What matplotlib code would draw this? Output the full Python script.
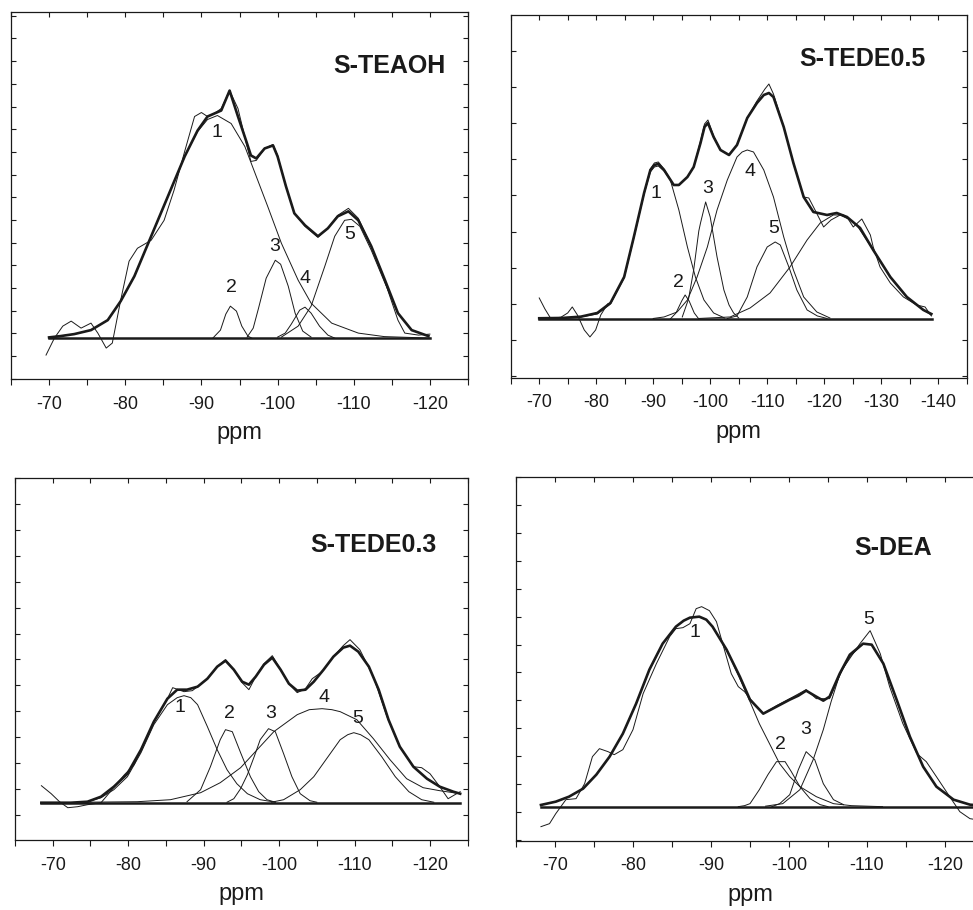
import numpy as np
import matplotlib
matplotlib.use("Agg")
import matplotlib.pyplot as plt

plt.rcParams['font.family'] = ['Liberation Sans', 'DejaVu Sans']
plt.rcParams['axes.unicode_minus'] = False

# ---------------- S-TEAOH ----------------
teaoh_exp_x = [-69.6, -70.7, -71.8, -72.9, -74.2, -75.5, -76.4, -77.5, -78.3, -79.4, -80.5, -81.6, -83.4, -85.1,
               -86.4, -87.8, -89.1, -90.0, -90.8, -91.7, -92.6, -93.7, -94.8, -95.9, -96.5, -97.2, -98.3, -99.4,
               -100.0, -101.1, -102.2, -103.6, -105.3, -106.6, -107.9, -109.3, -110.6, -112.3, -113.6, -114.6,
               -115.8, -116.7, -118.5, -120.0]
teaoh_exp_y = [-17, 0, 12, 17, 10, 15, 5, -10, -5, 38, 77, 90, 98, 118, 148, 187, 222, 226, 222, 225, 230, 248,
               230, 195, 177, 178, 190, 194, 183, 152, 125, 112, 101, 110, 123, 130, 120, 92, 68, 45, 18, 5, 3, 4]
teaoh_sum_x = [-70.0, -71.5, -73.3, -75.5, -77.7, -79.4, -81.2, -83.4, -85.6, -87.8, -89.5, -90.8, -92.0, -92.6,
               -93.7, -94.8, -95.9, -96.5, -97.2, -98.3, -99.4, -100.0, -101.1, -102.2, -103.6, -105.3, -106.6,
               -107.9, -109.3, -110.6, -112.3, -114.1, -115.8, -117.6, -119.8]
teaoh_sum_y = [0.7, 2, 4, 8, 18, 37, 62, 102, 142, 182, 208, 222, 226, 228, 248, 222, 197, 183, 180, 190, 193,
               182, 152, 125, 113, 102, 110, 122, 127, 118, 92, 58, 25, 8, 2]
teaoh_c1_x = [-70.0, -73.3, -75.5, -77.7, -79.4, -81.2, -83.4, -85.6, -87.8, -89.5, -90.8, -92.1, -93.9, -95.7,
              -97.4, -98.7, -100.5, -102.7, -104.4, -107.1, -110.6, -114.0, -120.0]
teaoh_c1_y = [0.7, 4, 8, 18, 37, 62, 102, 142, 182, 207, 219, 223, 215, 192, 158, 132, 95, 58, 35, 15, 5, 1.5, 0]
teaoh_c2_x = [-91.5, -92.5, -93.2, -93.8, -94.6, -95.3, -96.1, -96.6]
teaoh_c2_y = [0, 8, 24, 32, 27, 12, 2, 0]
teaoh_c3_x = [-96.0, -96.8, -97.5, -98.5, -99.7, -100.4, -101.4, -102.3, -103.3, -104.4]
teaoh_c3_y = [1, 10, 30, 60, 78, 74, 52, 25, 7, 1]
teaoh_c4_x = [-100.0, -101.0, -101.8, -102.9, -103.6, -104.4, -105.5, -106.6, -107.5]
teaoh_c4_y = [1, 5, 14, 28, 31, 25, 12, 3, 0]
teaoh_c5_x = [-100.5, -102.7, -104.4, -105.3, -106.2, -107.5, -108.8, -109.7, -110.8, -112.3, -114.1, -115.8,
              -117.6, -119.8]
teaoh_c5_y = [1, 12, 32, 52, 72, 102, 118, 119, 112, 88, 55, 25, 8, 2]
teaoh_base_x = [-70.0, -120.0]
teaoh_labels = ['1', '2', '3', '4', '5']
teaoh_label_x = [-92.1, -94.0, -99.6, -103.6, -109.5]
teaoh_label_y = [206, 51, 92, 60, 104]

# ---------------- S-TEDE0.5 ----------------
tede05_exp_x = [-70.0, -71.0, -72.0, -73.8, -75.0, -75.8, -76.7, -77.9, -78.9, -79.9, -80.8, -82.0, -82.5, -84.9,
                -86.6, -88.4, -89.5, -90.2, -90.9, -91.9, -93.6, -94.5, -96.0, -97.1, -98.3, -99.0, -99.6,
                -100.6, -101.8, -103.3, -104.7, -106.5, -108.2, -109.6, -110.3, -111.1, -112.9, -114.6, -116.4,
                -117.3, -118.3, -119.9, -121.2, -122.8, -124.2, -125.1, -126.6, -128.1, -128.6, -129.8, -131.6,
                -133.9, -136.2, -137.7, -138.8]
tede05_exp_y = [21, 10, 0.7, 1.7, 6, 12, 4, -11, -18, -11, 4, 15, 16, 42, 82, 126, 150, 156, 157, 150, 134, 134,
                142, 152, 178, 195, 199, 183, 169, 164, 174, 201, 218, 230, 235, 225, 192, 156, 122, 121, 110, 92,
                99, 104, 100, 92, 100, 84, 72, 52, 36, 22, 14, 12, 3]
tede05_sum_x = [-70.0, -74.0, -77.3, -80.2, -82.5, -84.9, -86.6, -88.4, -89.5, -90.2, -90.9, -91.9, -93.6, -94.5,
                -96.0, -97.1, -98.3, -99.0, -99.6, -100.6, -101.8, -103.3, -104.7, -106.5, -108.2, -109.4, -110.3,
                -111.1, -112.9, -114.6, -116.4, -118.1, -120.5, -122.2, -124.0, -126.3, -128.6, -131.6, -134.5,
                -137.4, -138.8]
tede05_sum_y = [0.7, 1, 2.3, 6, 16, 42, 82, 126, 149, 154, 155, 149, 134, 134, 142, 152, 176, 192, 196, 182, 169,
                164, 174, 201, 216, 224, 226, 222, 192, 156, 122, 107, 104, 106, 102, 91, 69, 42, 22, 9, 5]
tede05_c1_x = [-74.0, -77.3, -80.2, -82.5, -84.9, -86.6, -88.4, -89.5, -90.2, -90.9, -91.9, -93.0, -94.5, -96.0,
               -97.4, -98.9, -100.6, -102.5]
tede05_c1_y = [0.5, 2, 5, 15, 41, 81, 125, 147, 152, 153, 148, 139, 109, 72, 42, 19, 6, 1]
tede05_c2_x = [-93.0, -94.0, -95.0, -95.6, -96.3, -97.2, -98.0]
tede05_c2_y = [0, 6, 18, 24, 18, 6, 0]
tede05_c3_x = [-95.1, -96.2, -97.1, -98.0, -98.3, -99.2, -100.0, -101.2, -102.4, -103.3, -104.1, -105.0]
tede05_c3_y = [2, 20, 49, 88, 96, 117, 102, 62, 29, 14, 6, 1]
tede05_c4_x = [-90.0, -91.9, -94.2, -96.0, -97.7, -99.5, -101.2, -103.0, -104.7, -105.6, -106.5, -107.6, -109.4,
               -111.1, -112.9, -114.6, -116.4, -118.7, -121.0]
tede05_c4_y = [0.5, 2, 7, 19, 42, 72, 109, 139, 162, 167, 169, 167, 149, 122, 82, 49, 22, 7, 1]
tede05_c5_x = [-103.0, -104.7, -106.5, -108.2, -110.0, -111.4, -112.3, -113.8, -115.2, -117.0, -118.8, -120.5]
tede05_c5_y = [0.5, 3, 22, 52, 72, 77, 74, 52, 29, 9, 3, 0.5]
tede05_c6_x = [-98.0, -103.5, -107.0, -110.5, -114.0, -117.0, -119.3, -121.6, -123.4, -125.7, -128.6, -131.6,
               -134.5, -137.4, -138.8]
tede05_c6_y = [0.5, 2, 11, 26, 52, 79, 96, 104, 104, 94, 69, 42, 22, 9, 4]
tede05_base_x = [-70.0, -139.0]
tede05_labels = ['1', '2', '3', '4', '5']
tede05_label_x = [-90.5, -94.5, -99.6, -106.9, -111.2]
tede05_label_y = [125, 36, 130, 147, 90]

# ---------------- S-TEDE0.3 ----------------
tede03_exp_x = [-68.5, -69.8, -70.9, -72.0, -73.3, -74.6, -76.4, -77.3, -78.6, -79.5, -80.8, -81.7, -83.4, -85.2,
                -85.9, -87.4, -88.5, -89.2, -90.5, -91.8, -92.9, -94.0, -95.1, -96.0, -96.9, -98.0, -99.1, -100.2,
                -101.3, -102.4, -103.5, -104.4, -105.7, -107.2, -108.5, -109.4, -110.7, -112.5, -114.3, -116.0,
                -117.8, -118.9, -120.0, -121.3, -122.4, -123.3, -124.0]
tede03_exp_y = [17, 9, 1, -5, -4, -2, 0, 8, 20, 28, 38, 53, 81, 104, 115, 111, 112, 116, 124, 136, 143, 133, 120,
                113, 126, 139, 147, 133, 119, 110, 114, 124, 131, 146, 157, 163, 153, 126, 86, 56, 36, 35, 29, 16,
                4, 8, 11]
tede03_sum_x = [-68.5, -72.4, -74.6, -76.4, -78.1, -79.9, -81.7, -83.4, -85.2, -86.5, -87.8, -89.2, -90.5, -91.8,
                -92.9, -94.0, -95.1, -96.0, -96.9, -98.0, -99.1, -100.2, -101.3, -102.4, -103.5, -104.6, -105.9,
                -107.2, -108.5, -109.4, -110.5, -111.9, -113.2, -114.5, -116.0, -117.8, -119.6, -121.3, -123.1,
                -124.0]
tede03_sum_y = [0, 0, 1, 6, 16, 29, 53, 81, 104, 113, 113, 116, 124, 136, 142, 133, 121, 118, 126, 138, 145, 133,
                119, 112, 113, 121, 133, 146, 155, 157, 151, 136, 113, 83, 56, 36, 24, 16, 11, 9]
tede03_c1_x = [-74.6, -76.4, -78.1, -79.9, -81.7, -83.4, -85.2, -86.5, -87.4, -88.3, -89.2, -90.5, -91.8, -93.1,
               -94.4, -95.8, -97.5, -99.5]
tede03_c1_y = [1, 5, 13, 26, 50, 78, 98, 105, 107, 105, 98, 76, 53, 33, 19, 9, 3, 0.5]
tede03_c2_x = [-87.8, -89.6, -90.9, -92.2, -92.9, -93.8, -94.9, -96.2, -97.3, -98.4, -99.5]
tede03_c2_y = [1, 13, 36, 63, 73, 71, 50, 26, 11, 3, 0.5]
tede03_c3_x = [-93.1, -94.0, -94.9, -95.8, -96.7, -97.5, -98.6, -99.5, -100.6, -101.7, -102.8, -104.1, -105.0]
tede03_c3_y = [0.5, 4, 14, 28, 46, 63, 74, 71, 49, 26, 9, 2, 0.5]
tede03_c4_x = [-74.0, -81.2, -85.6, -89.6, -92.2, -94.9, -97.1, -99.3, -102.4, -104.0, -105.7, -107.0, -108.1,
               -110.3, -112.5, -114.7, -116.9, -119.1, -121.3, -124.0]
tede03_c4_y = [0.5, 1, 3, 10, 20, 35, 53, 71, 88, 93, 94, 93, 91, 83, 64, 43, 24, 15, 12, 9]
tede03_c5_x = [-99.0, -100.6, -102.8, -104.6, -106.3, -108.1, -109.1, -109.9, -110.8, -111.9, -113.6, -115.4,
               -117.2, -118.9, -120.5]
tede03_c5_y = [0.5, 3, 13, 26, 44, 63, 68, 70, 68, 63, 46, 26, 11, 3, 0.5]
tede03_base_x = [-68.5, -124.0]
tede03_labels = ['1', '2', '3', '4', '5']
tede03_label_x = [-86.8, -93.4, -98.9, -106.0, -110.4]
tede03_label_y = [95, 89, 89, 105, 84]

# ---------------- S-DEA ----------------
dea_exp_x = [-68.2, -69.3, -70.1, -71.4, -72.7, -73.8, -74.8, -75.7, -76.8, -77.6, -78.7, -80.0, -81.3, -83.0,
             -84.7, -85.5, -86.4, -87.3, -88.1, -88.8, -89.8, -90.7, -91.5, -92.6, -93.5, -94.3, -95.0, -96.7,
             -98.4, -100.1, -102.2, -103.5, -105.2, -106.9, -109.1, -110.4, -111.7, -112.9, -114.6, -116.4,
             -117.6, -118.9, -120.6, -121.9, -123.2, -124.0]
dea_exp_y = [-20, -17, -7, 7, 8, 23, 50, 58, 55, 52, 57, 77, 113, 143, 170, 178, 179, 183, 198, 200, 196, 185,
             163, 133, 120, 115, 108, 93, 101, 108, 117, 108, 108, 138, 163, 176, 153, 120, 83, 53, 45, 30, 10, -5,
             -12, -13]
dea_sum_x = [-68.2, -70.1, -71.8, -73.6, -75.3, -77.0, -78.7, -80.4, -82.1, -83.8, -85.5, -86.5, -87.3, -88.5,
             -89.4, -90.2, -92.0, -93.7, -95.0, -96.7, -98.4, -100.1, -101.2, -102.2, -103.5, -104.4, -105.2,
             -106.5, -107.8, -109.5, -110.6, -112.1, -113.8, -115.5, -117.2, -118.9, -121.1, -123.2, -124.0]
dea_sum_y = [1.7, 5, 10, 18, 32, 50, 73, 103, 137, 163, 180, 186, 189, 190, 187, 180, 157, 130, 107, 93, 100,
             107, 111, 116, 110, 106, 110, 133, 152, 163, 162, 143, 107, 70, 40, 20, 7, 2, 1.5]
dea_c1_x = [-68.2, -70.1, -71.8, -73.6, -75.3, -77.0, -78.7, -80.4, -82.1, -83.8, -85.5, -86.5, -87.3, -88.5,
            -89.4, -90.2, -92.0, -93.7, -95.0, -96.2, -97.5, -98.8, -100.1, -101.4, -103.5, -105.7, -108.0, -112.0]
dea_c1_y = [1.7, 5, 10, 18, 32, 50, 73, 103, 137, 163, 180, 186, 189, 190, 187, 180, 157, 128, 105, 83, 63, 43,
            30, 20, 10, 3, 1, 0]
dea_c2_x = [-93.5, -94.3, -95.0, -96.2, -97.3, -98.4, -99.5, -100.3, -101.4, -102.7, -104.0, -105.0]
dea_c2_y = [0, 1, 3, 17, 32, 45, 45, 35, 20, 8, 2, 0]
dea_c3_x = [-97.8, -98.8, -100.1, -101.2, -102.2, -103.3, -104.4, -105.7, -107.0]
dea_c3_y = [0, 3, 12, 37, 55, 47, 23, 7, 2]
dea_c5_x = [-97.0, -99.2, -101.4, -103.1, -104.4, -105.4, -106.5, -107.8, -109.5, -110.6, -112.1, -113.8, -115.5,
            -117.2, -118.9, -121.1, -123.2, -124.0]
dea_c5_y = [0.5, 3, 17, 47, 77, 105, 132, 150, 163, 162, 143, 107, 70, 40, 20, 7, 2, 1.5]
dea_base_x = [-68.2, -124.0]
dea_labels = ['1', '2', '3', '5']
dea_label_x = [-88.0, -98.9, -102.2, -110.2]
dea_label_y = [174, 62, 77, 187]

# ---------------- panel settings ----------------
titles = ['S-TEAOH', 'S-TEDE0.5', 'S-TEDE0.3', 'S-DEA']
title_x = [-122.0, -137.7, -120.9, -118.3]
title_y = [273, 260, 258, 259]
xticks_a = [-70, -80, -90, -100, -110, -120]
xticks_b = [-70, -80, -90, -100, -110, -120, -130, -140]
xlabel = 'ppm'

panels = [
    dict(rect=[0.0113, 0.5835, 0.4697, 0.4033], xlim=(-65, -125), ylim=(-41, 326.7),
         yt0=4.7, ytstep=22.73, xt=xticks_a,
         exp=(teaoh_exp_x, teaoh_exp_y), sum=(teaoh_sum_x, teaoh_sum_y),
         comps=[(teaoh_c1_x, teaoh_c1_y), (teaoh_c2_x, teaoh_c2_y), (teaoh_c3_x, teaoh_c3_y),
                (teaoh_c4_x, teaoh_c4_y), (teaoh_c5_x, teaoh_c5_y)],
         base=teaoh_base_x, labels=(teaoh_labels, teaoh_label_x, teaoh_label_y)),
    dict(rect=[0.5249, 0.585, 0.4686, 0.3985], xlim=(-65, -145), ylim=(-58.7, 304),
         yt0=-21.3, ytstep=36.2, xt=xticks_b,
         exp=(tede05_exp_x, tede05_exp_y), sum=(tede05_sum_x, tede05_sum_y),
         comps=[(tede05_c1_x, tede05_c1_y), (tede05_c2_x, tede05_c2_y), (tede05_c3_x, tede05_c3_y),
                (tede05_c4_x, tede05_c4_y), (tede05_c5_x, tede05_c5_y), (tede05_c6_x, tede05_c6_y)],
         base=tede05_base_x, labels=(tede05_labels, tede05_label_x, tede05_label_y)),
    dict(rect=[0.0154, 0.0769, 0.4653, 0.3975], xlim=(-65, -125), ylim=(-37.3, 324.3),
         yt0=-12, ytstep=25.86, xt=xticks_a,
         exp=(tede03_exp_x, tede03_exp_y), sum=(tede03_sum_x, tede03_sum_y),
         comps=[(tede03_c1_x, tede03_c1_y), (tede03_c2_x, tede03_c2_y), (tede03_c3_x, tede03_c3_y),
                (tede03_c4_x, tede03_c4_y), (tede03_c5_x, tede03_c5_y)],
         base=tede03_base_x, labels=(tede03_labels, tede03_label_x, tede03_label_y)),
    dict(rect=[0.5303, 0.0762, 0.4810, 0.4000], xlim=(-65, -125), ylim=(-34, 330),
         yt0=-5.3, ytstep=27.9, xt=xticks_a,
         exp=(dea_exp_x, dea_exp_y), sum=(dea_sum_x, dea_sum_y),
         comps=[(dea_c1_x, dea_c1_y), (dea_c2_x, dea_c2_y), (dea_c3_x, dea_c3_y), (dea_c5_x, dea_c5_y)],
         base=dea_base_x, labels=(dea_labels, dea_label_x, dea_label_y)),
]

fig = plt.figure(figsize=(9.73, 9.10), dpi=100)
ink = '#1a1a1a'
for i, p in enumerate(panels):
    ax = fig.add_axes(p['rect'])
    ax.set_xlim(*p['xlim'])
    ax.set_ylim(*p['ylim'])
    for cx, cy in p['comps']:
        ax.plot(cx, cy, color=ink, lw=0.7, solid_joinstyle='round')
    ax.plot(p['exp'][0], p['exp'][1], color=ink, lw=0.7, solid_joinstyle='round')
    ax.plot(p['sum'][0], p['sum'][1], color=ink, lw=1.9, solid_joinstyle='round')
    ax.plot(p['base'], [0, 0], color=ink, lw=1.8)
    labs, lx, ly = p['labels']
    for t, x, y in zip(labs, lx, ly):
        ax.text(x, y, t, fontsize=14, ha='center', va='center', color=ink)
    ax.text(title_x[i], title_y[i], titles[i], fontsize=18, fontweight='bold', ha='right', va='center',
            color=ink)
    ax.set_xticks(p['xt'])
    ax.set_xticklabels([str(v) for v in p['xt']], fontsize=13)
    lo, hi = p['xlim']
    ax.set_xticks(np.arange(-65, hi - 0.1, -5), minor=True)
    yt = np.arange(p['yt0'], p['ylim'][1], p['ytstep'])
    yt = np.concatenate([np.arange(p['yt0'] - p['ytstep'], p['ylim'][0], -p['ytstep']), yt])
    ax.set_yticks(yt)
    ax.set_yticklabels([])
    ax.tick_params(axis='x', which='both', direction='out', top=False, length=4, width=0.8, pad=8,
                   colors=ink)
    ax.tick_params(axis='y', which='both', direction='in', left=True, right=True, length=3.5, width=0.8,
                   colors=ink)
    secx = ax.secondary_xaxis('top')
    secx.set_xticks(p['xt'])
    secx.set_xticks(np.arange(-65, hi - 0.1, -5), minor=True)
    secx.set_xticklabels([])
    secx.tick_params(axis='x', which='both', direction='in', length=3.5, width=0.8, colors=ink)
    secx.spines['top'].set_visible(False)
    ax.set_xlabel(xlabel, fontsize=17, labelpad=7, color=ink)
    for s in ax.spines.values():
        s.set_linewidth(0.9)
        s.set_color(ink)

fig.savefig('out.png', dpi=100)
